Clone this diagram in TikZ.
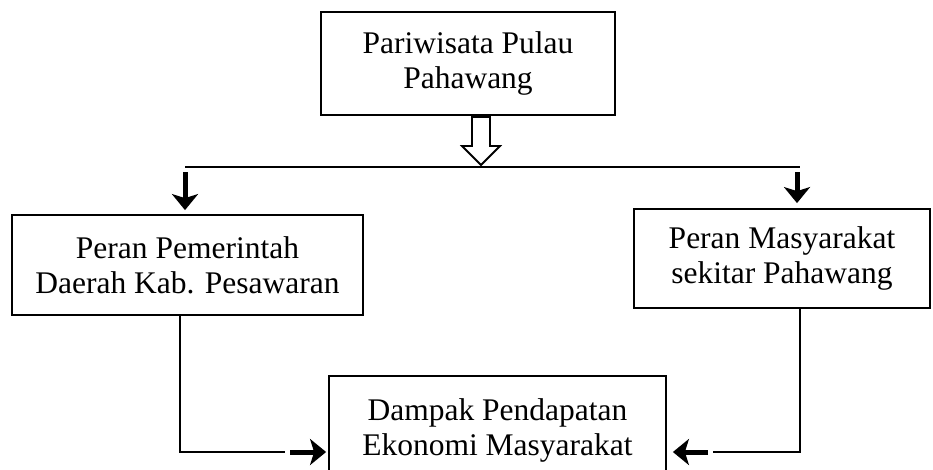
\documentclass[tikz,border=0pt]{standalone}
\usepackage{fontspec}
\setmainfont{Liberation Serif}
\usetikzlibrary{arrows.meta}
\begin{document}
\begin{tikzpicture}[x=1pt,y=-1pt,
  box/.style={draw=black,line width=1.8pt,align=center,inner sep=0pt,
    font=\fontsize{31.5}{35}\selectfont},
  conn/.style={draw=black,line width=1.8pt},
  bigarrow/.style={draw=black,line width=5pt,-{Stealth[length=16pt,width=26pt,inset=4pt]}}]
\useasboundingbox (0,0) rectangle (933,469);
\clip (0,0) rectangle (933,469);
\node[box,minimum width=294pt,minimum height=103pt] (top) at (468,63.5) {Pariwisata Pulau\\Pahawang};
\node[box,minimum width=351pt,minimum height=100pt] (pem) at (187.5,265) {Peran Pemerintah\\Daerah Kab. Pesawaran};
\node[box,minimum width=296pt,minimum height=99pt] (mas) at (782,258.5) {Peran Masyarakat\\sekitar Pahawang};
\node[box,minimum width=337pt,minimum height=112pt,text depth=0pt] (dam) at (497.5,432) {};
\node[font=\fontsize{31.5}{35}\selectfont,align=center,inner sep=0pt] (damt) at (497.5,430) {Dampak Pendapatan\\Ekonomi Masyarakat};
% hollow arrow
\draw[line width=1.8pt,line join=miter,fill=white]
  (472,117) -- (490,117) -- (490,146) -- (500,146) -- (481,165) -- (462,146) -- (472,146) -- cycle;
% distribution line
\coordinate (L) at (185,167);
\coordinate (R) at (800,167);
\draw[conn] (L) -- (R);
\coordinate (la) at (185,172);
\coordinate (ra) at (797,172);
\draw[bigarrow,shorten >=4pt] (la) -- (la |- pem.north);
\draw[bigarrow,shorten >=5pt] (ra) -- (ra |- mas.north);
% bottom connectors
\coordinate (lx) at (180,452);
\coordinate (lend) at (285,452);
\coordinate (lar) at (290,452);
\draw[conn] (lx |- pem.south) -- (lx) -- (lend);
\draw[bigarrow,shorten >=2pt] (lar) -- (lar -| dam.west);
\coordinate (rx) at (800,452);
\coordinate (rend) at (713,452);
\coordinate (rar) at (708,452);
\draw[conn] (rx |- mas.south) -- (rx) -- (rend);
\draw[bigarrow,shorten >=6pt] (rar) -- (rar -| dam.east);
\end{tikzpicture}
\end{document}
